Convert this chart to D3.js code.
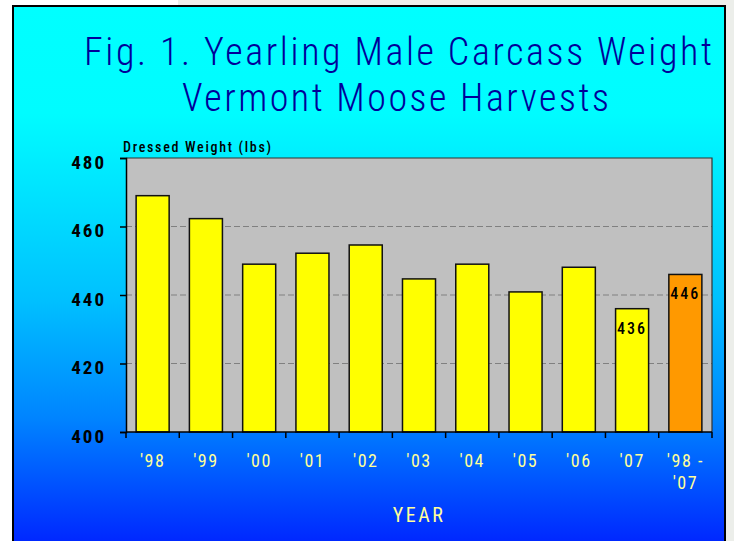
<!DOCTYPE html>
<html>
<head>
<meta charset="utf-8">
<script src="https://cdn.jsdelivr.net/npm/d3@7"></script>
<style>
  body { margin: 0; background: #eceeea; }
  svg { display: block; }
  .narrow { font-family: 'Liberation Sans Narrow', 'Arial Narrow', 'Roboto Condensed', 'Liberation Sans', sans-serif; }
</style>
</head>
<body>
<div class="moose-chart"></div>
<script>
'use strict'

// Chart data.
const years = ["'98", "'99", "'00", "'01", "'02", "'03", "'04", "'05", "'06", "'07", "'98 - '07"];
const weights = [469, 462.3, 449, 452.2, 454.6, 444.7, 449, 440.9, 448.1, 436, 446];
const labelled = ["'07", "'98 - '07"];
const yTicks = [400, 420, 440, 460, 480];
const titleLines = ['Fig. 1. Yearling Male Carcass Weight', 'Vermont Moose Harvests'];

let data = years.map((y, i) => ({year: y, weight: weights[i], avg: i === years.length - 1}));

// Dimensions.
let width = 734,
    height = 541,
    plot = {left: 126, right: 712, top: 158, bottom: 432};

let svg = d3.select('.moose-chart')
    .append('svg')
        .attr('width', width)
        .attr('height', height);

// Page bits outside the frame.
svg.append('rect').attr('x', 0).attr('y', 0).attr('width', 12).attr('height', height).attr('fill', '#ffffff');
svg.append('rect').attr('x', 0).attr('y', 0).attr('width', 178).attr('height', 6).attr('fill', '#ffffff');

// Background gradient.
let grad = svg.append('defs')
    .append('linearGradient')
        .attr('id', 'bg')
        .attr('gradientUnits', 'userSpaceOnUse')
        .attr('x1', 0).attr('y1', 7)
        .attr('x2', 0).attr('y2', 541);

[[0, '#00ffff'], [0.2, '#00fcff'], [0.55, '#00c0ff'], [0.77, '#0084ff'], [1, '#0028ff']]
    .forEach(s => grad.append('stop').attr('offset', s[0]).attr('stop-color', s[1]));

svg.append('rect')
    .attr('x', 13).attr('y', 6)
    .attr('width', 712).attr('height', 560)
    .attr('fill', 'url(#bg)')
    .attr('stroke', '#000')
    .attr('stroke-width', 2);

// Title.
svg.append('g')
    .attr('class', 'narrow')
    .selectAll('text')
    .data(titleLines)
    .join('text')
        .attr('x', (d, i) => i === 0 ? 84 : 182)
        .attr('y', (d, i) => i === 0 ? 65 : 111)
        .attr('textLength', (d, i) => i === 0 ? 628 : 427)
        .attr('lengthAdjust', 'spacing')
        .style('font-size', '38px')
        .style('font-weight', 300)
        .attr('fill', '#000099')
        .text(d => d);

// Scales.
let x = d3.scaleBand()
    .domain(years)
    .range([plot.left, plot.right])
    .paddingInner(0.38)
    .paddingOuter(0.19);

let y = d3.scaleLinear()
    .domain([400, 480])
    .range([plot.bottom, plot.top]);

// Plot area.
svg.append('rect')
    .attr('x', plot.left).attr('y', plot.top)
    .attr('width', plot.right - plot.left)
    .attr('height', plot.bottom - plot.top)
    .attr('fill', '#c0c0c0');

// Gridlines.
svg.append('g')
    .selectAll('line')
    .data(yTicks.filter(d => d > 400 && d < 480))
    .join('line')
        .attr('x1', plot.left).attr('x2', plot.right)
        .attr('y1', d => y(d)).attr('y2', d => y(d))
        .attr('stroke', '#808080')
        .attr('stroke-dasharray', '6,3');

// Top and right frame of plot.
svg.append('path')
    .attr('d', `M${plot.left},${plot.top}H${plot.right}V${plot.bottom}`)
    .attr('fill', 'none')
    .attr('stroke', '#333')
    .attr('stroke-width', 1.2);

// Bars.
svg.append('g')
    .selectAll('rect')
    .data(data)
    .join('rect')
        .attr('x', d => x(d.year))
        .attr('y', d => y(d.weight))
        .attr('width', x.bandwidth())
        .attr('height', d => y(400) - y(d.weight))
        .attr('fill', d => d.avg ? '#ff9900' : '#ffff00')
        .attr('stroke', '#111')
        .attr('stroke-width', 1.5);

// Value labels.
svg.append('g')
    .attr('class', 'narrow')
    .selectAll('text')
    .data(data.filter(d => labelled.includes(d.year)))
    .join('text')
        .attr('x', d => x(d.year) + x.bandwidth() / 2)
        .attr('y', d => y(d.weight) + 25)
        .attr('text-anchor', 'middle')
        .style('font-size', '16px')
        .style('font-weight', 500)
        .style('letter-spacing', '2px')
        .text(d => Math.round(d.weight));

// Y axis.
svg.append('g')
    .attr('transform', `translate(${plot.left}, 0)`)
    .call(d3.axisLeft(y).tickValues(yTicks).tickSize(6).tickPadding(14))
    .call(g => g.select('.domain').attr('stroke', '#000').attr('stroke-width', 1.5))
    .call(g => g.selectAll('.tick line').attr('stroke', '#000').attr('stroke-width', 1.5))
    .call(g => g.selectAll('.tick text')
        .attr('class', 'narrow')
        .attr('dy', '0.55em')
        .attr('fill', '#000')
        .style('font-size', '19px')
        .style('font-weight', 'bold')
        .style('letter-spacing', '2px'));

svg.append('text')
    .attr('class', 'narrow')
    .attr('x', 123)
    .attr('y', 152)
    .style('font-size', '14px')
    .style('font-weight', 500)
    .style('letter-spacing', '1.7px')
    .text('Dressed Weight (lbs)');

// X axis: ticks at category boundaries.
let bounds = years.map(d => x(d) - x.step() * x.paddingOuter()).concat([plot.right]);

svg.append('line')
    .attr('x1', plot.left).attr('x2', plot.right)
    .attr('y1', plot.bottom).attr('y2', plot.bottom)
    .attr('stroke', '#000')
    .attr('stroke-width', 1.5);

svg.append('g')
    .selectAll('line')
    .data(bounds)
    .join('line')
        .attr('x1', d => d).attr('x2', d => d)
        .attr('y1', plot.bottom).attr('y2', plot.bottom + 6)
        .attr('stroke', '#000')
        .attr('stroke-width', 1.5);

let xLabels = svg.append('g')
    .attr('class', 'narrow')
    .selectAll('text')
    .data(years)
    .join('text')
        .attr('x', d => x(d) + x.bandwidth() / 2)
        .attr('y', 467)
        .attr('text-anchor', 'middle')
        .attr('fill', '#ffff99')
        .style('font-size', '18px')
        .style('letter-spacing', '1.5px');

xLabels.selectAll('tspan')
    .data(d => d.split(' - ').length > 1 ? [d.split(' - ')[0] + ' -', d.split(' - ')[1]] : [d])
    .join('tspan')
        .attr('x', function() { return d3.select(this.parentNode).attr('x'); })
        .attr('dy', (d, i) => i === 0 ? 0 : 22)
        .text(d => d);

svg.append('text')
    .attr('class', 'narrow')
    .attr('x', (plot.left + plot.right) / 2)
    .attr('y', 522)
    .attr('text-anchor', 'middle')
    .attr('fill', '#ffff99')
    .style('font-size', '20px')
    .style('letter-spacing', '2.5px')
    .text('YEAR');
</script>
</body>
</html>
